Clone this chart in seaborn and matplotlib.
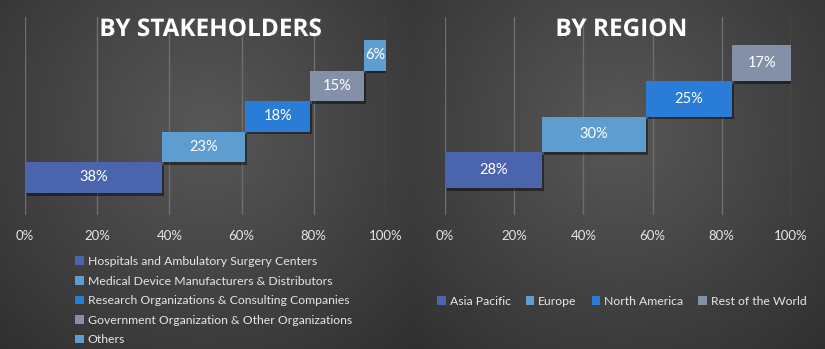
import numpy as np
import pandas as pd
import matplotlib
matplotlib.use("Agg")
import matplotlib.pyplot as plt
import matplotlib.patheffects as pe
from matplotlib.patches import Patch
import seaborn as sns

# ---- data ----
stake_labels = ["Hospitals and Ambulatory Surgery Centers",
                "Medical Device Manufacturers & Distributors",
                "Research Organizations & Consulting Companies",
                "Government Organization & Other Organizations",
                "Others"]
stake_values = [38, 23, 18, 15, 6]
stake_colors = ["#4a65ad", "#5e9dd0", "#2a7dd6", "#8390a8", "#5e9dd0"]

region_labels = ["Asia Pacific", "Europe", "North America", "Rest of the World"]
region_values = [28, 30, 25, 17]
region_colors = ["#4a65ad", "#5e9dd0", "#2a7dd6", "#8390a8"]

xticks = [0, 20, 40, 60, 80, 100]
xtick_labels = ["0%", "20%", "40%", "60%", "80%", "100%"]

sns.set_theme(style="dark")
plt.rcParams["font.family"] = ["Lato", "DejaVu Sans"]

W, H = 825, 349
fig = plt.figure(figsize=(W / 100, H / 100), dpi=100)

# background: two radial gradients
bg = fig.add_axes([0, 0, 1, 1], zorder=-10)
yy, xx = np.mgrid[0:H, 0:W]
split = 412
cx = np.where(xx < split, 206, 618)
r = np.sqrt(((xx - cx) / 230.0) ** 2 + ((yy - 130) / 230.0) ** 2)
val = 0.345 - 0.12 * np.clip(r, 0, 1.3)
img = np.dstack([val, val, val])
bg.imshow(img, extent=[0, W, H, 0], aspect="auto")
bg.set_axis_off()


def panel(rect, labels, values, colors, title, ylim, title_x):
    ax = fig.add_axes(rect)
    ax.set_facecolor("none")
    df = pd.DataFrame({"cat": labels, "val": values})
    sns.barplot(data=df, x="val", y="cat", hue="cat", order=labels,
                hue_order=labels, palette=colors, dodge=False, width=1.0,
                legend=False, ax=ax, saturation=1, zorder=3,
                edgecolor="none", linewidth=0)
    starts = np.concatenate([[0], np.cumsum(values)[:-1]])
    # seaborn places first category at y=0
    for p in ax.patches:
        idx = int(round(p.get_y() + p.get_height() / 2))
        p.set_x(starts[idx])
        p.set_path_effects([pe.SimplePatchShadow(offset=(1.5, -2), alpha=0.45,
                                                 shadow_rgbFace="black"),
                            pe.Normal()])
    for i, (s, v) in enumerate(zip(starts, values)):
        ax.text(s + v / 2, i, f"{v}%", ha="center", va="center",
                color="white", fontsize=10.5, zorder=5)
    ax.set_xlim(0, 100)
    ax.set_ylim(*ylim)
    ax.set_xticks(xticks)
    ax.set_xticklabels(xtick_labels, color="#e6e6e6", fontsize=9.5)
    ax.tick_params(axis="x", length=0, pad=11)
    ax.set_yticks([])
    ax.set_xlabel("")
    ax.set_ylabel("")
    ax.grid(False)
    for x in xticks:
        ax.axvline(x, color="#6e6e6e", lw=1, zorder=1)
    for s in ax.spines.values():
        s.set_visible(False)
    fig.text(title_x, 1 - 30 / H, title, ha="center", va="center",
             color="white", fontsize=17.5, fontweight="bold",
             family=["Open Sans", "DejaVu Sans"],
             path_effects=[pe.withSimplePatchShadow(offset=(1, -1), alpha=0.5)])
    return ax


fy0 = 1 - 215 / H
fh = (215 - 17) / H
ax1 = panel([25 / W, fy0, (386 - 25) / W, fh], stake_labels, stake_values,
            stake_colors, "BY STAKEHOLDERS", (-1.23, 5.26), 210 / W)
ax2 = panel([445 / W, fy0, (791 - 445) / W, fh], region_labels, region_values,
            region_colors, "BY REGION", (-1.26, 4.29), 621 / W)

h1 = [Patch(facecolor=c, edgecolor="none") for c in stake_colors]
leg1 = fig.legend(h1, stake_labels, loc="upper left",
                  bbox_to_anchor=(75 / W, 1 - 256 / H), frameon=False,
                  fontsize=8.8, labelcolor="#e6e6e6", handlelength=0.7,
                  handleheight=0.7, handletextpad=0.35, labelspacing=0.7,
                  borderaxespad=0, borderpad=0)

h2 = [Patch(facecolor=c, edgecolor="none") for c in region_colors]
leg2 = fig.legend(h2, region_labels, loc="upper left",
                  bbox_to_anchor=(437 / W, 1 - 296 / H), frameon=False,
                  fontsize=8.8, labelcolor="#e6e6e6", handlelength=0.7,
                  handleheight=0.7, handletextpad=0.35, ncol=4,
                  columnspacing=1.2, borderaxespad=0, borderpad=0)

fig.savefig("out.png", dpi=100)
